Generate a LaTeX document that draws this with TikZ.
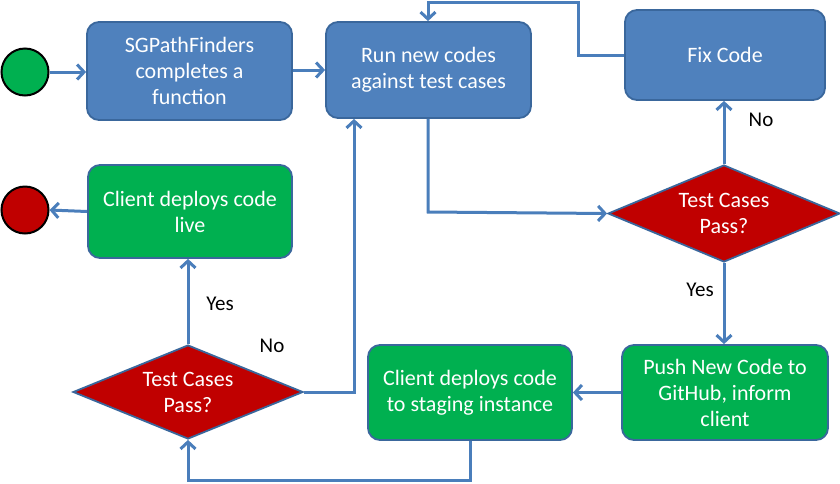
\documentclass[tikz,border=0pt]{standalone}
\usepackage{fontspec}
\setmainfont{Carlito}
\usetikzlibrary{shapes.geometric,arrows.meta}
\definecolor{bfill}{HTML}{4F81BD}
\definecolor{bline}{HTML}{3A679C}
\definecolor{gfill}{HTML}{00B050}
\definecolor{rfill}{HTML}{C00000}
\definecolor{conn}{HTML}{4A7EBB}
\tikzset{
  boxb/.style={draw=bline, line width=1.8pt, rounded corners=12pt, fill=bfill, text=white, align=center, font=\fontsize{22}{26}\selectfont, inner sep=0pt},
  boxg/.style={boxb, fill=gfill},
  dec/.style={diamond, draw=bline, line width=1.8pt, fill=rfill, text=white, align=center, font=\fontsize{22}{26}\selectfont, inner sep=0pt, aspect=2.4},
  term/.style={circle, draw=black, line width=2pt, minimum size=47pt, inner sep=0pt},
  flow/.style={draw=conn, line width=3pt, -{Straight Barb[length=7pt,width=15pt,line width=3pt]}},
  lab/.style={font=\fontsize{21}{24}\selectfont, text=black},
}
\begin{document}
\begin{tikzpicture}[x=1pt,y=-1pt]
\useasboundingbox (0,0) rectangle (840,483);
\fill[white] (0,0) rectangle (840,483);
% nodes
\node[term, fill=gfill] (start) at (25,72) {};
\node[term, fill=rfill] (stop) at (25,210) {};
\node[boxb, minimum width=205pt, minimum height=98pt] (sg) at (189.5,71) {SGPathFinders\\completes a\\function};
\node[boxb, minimum width=205pt, minimum height=96pt] (run) at (428.5,70) {Run new codes\\against test cases};
\node[boxb, minimum width=200pt, minimum height=90pt] (fix) at (725,55) {Fix Code};
\node[dec, minimum width=232pt, minimum height=97pt] (d1) at (724,213.5) {Test Cases\\Pass?};
\node[boxg, minimum width=206pt, minimum height=95pt] (push) at (725,392.5) {Push New Code to\\GitHub, inform\\client};
\node[boxg, minimum width=204pt, minimum height=95pt] (stag) at (470,392.5) {Client deploys code\\to staging instance};
\node[dec, minimum width=230pt, minimum height=94pt] (d2) at (188,392) {Test Cases\\Pass?};
\node[boxg, minimum width=204pt, minimum height=93pt] (live) at (190,211.5) {Client deploys code\\live};
% connector corner points
\coordinate (c1) at (428,212);
\coordinate (c2) at (578,55);
\coordinate (c3) at (578,2);
\coordinate (c4) at (428,2);
\coordinate (c5) at (470,480);
\coordinate (c6) at (188,480);
\coordinate (c7) at (354,392);
% connectors
\draw[flow] (start.east) -- (start.east -| sg.west);
\draw[flow] (sg.east |- 0,70) -- (run.west |- 0,70);
\draw[flow] (run.south -| c1) -- (c1) -- (d1.west);
\draw[flow] (d1.north) -- (fix.south -| d1.north);
\draw[flow] (fix.west) -- (c2) -- (c3) -- (c4) -- (run.north -| c4);
\draw[flow] (d1.south) -- (push.north -| d1.south);
\draw[flow] (push.west) -- (stag.east |- push.west);
\draw[flow] (stag.south) -- (c5) -- (c6) -- (d2.south);
\draw[flow] (d2.east) -- (c7) -- (run.south -| c7);
\draw[flow] (d2.north) -- (live.south -| d2.north);
\draw[flow] (live.west) -- (stop.east);
% labels
\node[lab] (no1) at (761,120) {No};
\node[lab] (yes1) at (700,290) {Yes};
\node[lab] (no2) at (272,346) {No};
\node[lab] (yes2) at (220,304) {Yes};
\end{tikzpicture}
\end{document}
